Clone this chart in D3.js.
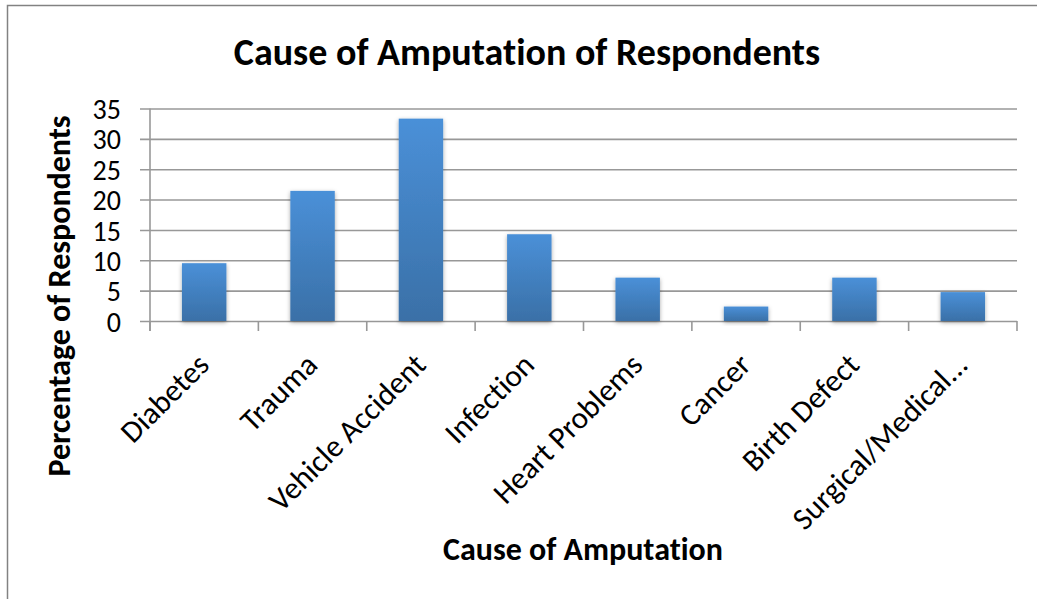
<!DOCTYPE html>
<html>
<head>
<meta charset="utf-8">
<script src="https://cdn.jsdelivr.net/npm/d3@7"></script>
<style>
  html, body { margin: 0; padding: 0; background: #fff; }
  svg { display: block; }
  text { font-family: Carlito, Calibri, Lato, "Open Sans", sans-serif; fill: #000;
         font-variant-ligatures: none; }
</style>
</head>
<body>
<svg id="chart" width="1037" height="599"></svg>
<script>
// Cause of amputation among respondents (percent)
const categories = ["Diabetes", "Trauma", "Vehicle Accident", "Infection",
                    "Heart Problems", "Cancer", "Birth Defect", "Surgical/Medical..."];
const percentages = [9.52, 21.43, 33.33, 14.29, 7.14, 2.38, 7.14, 4.76];
const yTicks = [0, 5, 10, 15, 20, 25, 30, 35];

const svg = d3.select("#chart");

// chart frame (left and top edges)
svg.append("path")
  .attr("d", "M7.5,599 V5.5 H1037")
  .attr("fill", "none").attr("stroke", "#828282").attr("stroke-width", 1.5);

const plot = { left: 150, right: 1017, top: 108.5, bottom: 321 };

const x = d3.scaleBand()
  .domain(categories)
  .range([plot.left, plot.right])
  .paddingInner(0.59)
  .paddingOuter(0.295);

const y = d3.scaleLinear()
  .domain([0, 35])
  .range([plot.bottom, plot.top]);

// bar fill and soft shadow
const defs = svg.append("defs");
const grad = defs.append("linearGradient")
  .attr("id", "barFill").attr("x1", 0).attr("y1", 0).attr("x2", 0).attr("y2", 1);
grad.append("stop").attr("offset", "0%").attr("stop-color", "#4A90D8");
grad.append("stop").attr("offset", "100%").attr("stop-color", "#3A70A7");

const shadow = defs.append("filter").attr("id", "barShadow")
  .attr("x", "-30%").attr("y", "-30%").attr("width", "160%").attr("height", "160%");
shadow.append("feDropShadow")
  .attr("dx", 0).attr("dy", 1.5).attr("stdDeviation", 2.2)
  .attr("flood-color", "#000").attr("flood-opacity", 0.35);

// horizontal gridlines with left tick marks
const yAxis = d3.axisLeft(y)
  .tickValues(yTicks)
  .tickSize(plot.right - plot.left + 10)
  .tickFormat(d3.format("d"));

const gy = svg.append("g")
  .attr("transform", `translate(${plot.right},0)`)
  .call(yAxis);
gy.select(".domain").remove();
gy.selectAll(".tick line")
  .attr("stroke", "#989898").attr("stroke-width", 1.6);
gy.selectAll(".tick text")
  .attr("x", -(plot.right - plot.left) - 29)
  .attr("dy", "0.36em")
  .style("font-size", "28px");

// category axis: vertical axis line and tick marks between categories
const bounds = categories.map(c => x(c) - x.step() * x.paddingInner() / 2);
bounds.push(plot.right);

svg.append("line")
  .attr("x1", plot.left).attr("x2", plot.left)
  .attr("y1", plot.top).attr("y2", plot.bottom + 10)
  .attr("stroke", "#989898").attr("stroke-width", 1.6);

svg.append("g").selectAll("line").data(bounds).join("line")
  .attr("x1", d => d).attr("x2", d => d)
  .attr("y1", plot.bottom).attr("y2", plot.bottom + 10)
  .attr("stroke", "#989898").attr("stroke-width", 1.6);

// bars
svg.append("g").selectAll("rect")
  .data(percentages)
  .join("rect")
  .attr("x", (d, i) => x(categories[i]))
  .attr("width", x.bandwidth())
  .attr("y", d => y(d))
  .attr("height", d => y(0) - y(d))
  .attr("fill", "url(#barFill)")
  .attr("filter", "url(#barShadow)");

// rotated category labels
svg.append("g").selectAll("text")
  .data(categories)
  .join("text")
  .attr("transform", d => `translate(${x(d) + x.bandwidth() / 2 - 1},${plot.bottom + 38}) rotate(-45)`)
  .attr("text-anchor", "end")
  .attr("dy", "0.35em")
  .style("font-size", "31px")
  .text(d => d);

// titles
svg.append("text")
  .attr("x", 527).attr("y", 65)
  .attr("text-anchor", "middle")
  .style("font-size", "38px").style("font-weight", "bold")
  .text("Cause of Amputation of Respondents");

svg.append("text")
  .attr("x", 583).attr("y", 560)
  .attr("text-anchor", "middle")
  .style("font-size", "32px").style("font-weight", "bold")
  .text("Cause of Amputation");

svg.append("text")
  .attr("transform", "translate(70,296) rotate(-90)")
  .attr("text-anchor", "middle")
  .style("font-size", "32px").style("font-weight", "bold")
  .text("Percentage of Respondents");
</script>
</body>
</html>
